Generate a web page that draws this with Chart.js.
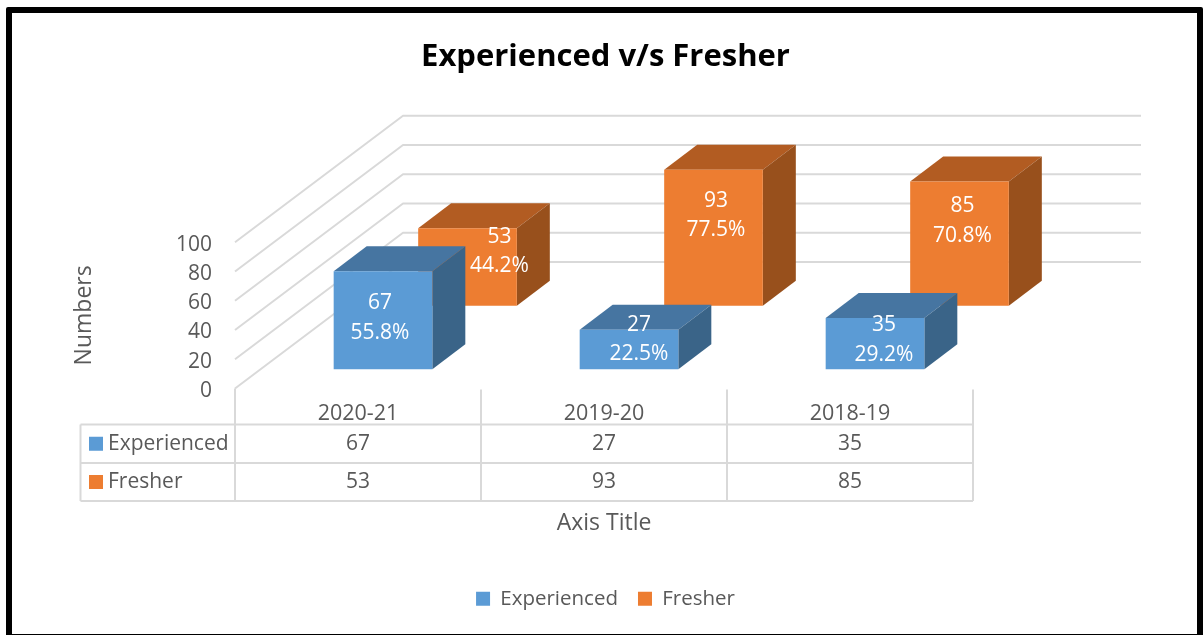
<!DOCTYPE html>
<html><head><meta charset="utf-8">
<style>
html,body{margin:0;padding:0;background:#fff;overflow:hidden;width:1203px;height:635px}
#wrap{position:relative;width:1203px;height:635px;overflow:hidden}
canvas{position:absolute;left:0;top:0}
#frame{position:absolute;left:6px;top:7px;width:1197px;height:632.5px;border:6px solid #000;box-sizing:border-box;border-radius:2px;pointer-events:none}
</style>
<script src="https://cdn.jsdelivr.net/npm/chart.js@4"></script>
</head><body>
<div id="wrap"><canvas id="c" width="1203" height="635"></canvas><div id="frame"></div></div>
<script>
const categories = ['2020-21','2019-20','2018-19'];
const experienced = [67,27,35];
const fresher = [53,93,85];
const experiencedPct = ['55.8%','22.5%','29.2%'];
const fresherPct = ['44.2%','77.5%','70.8%'];
const yTicks = [0,20,40,60,80,100];

const FONT = 'Open Sans';
const TXT = '#595959';
const GRID = '#d9d9d9';
const WALL = {dx:168, dy:-126.5, right:1141};
const BAR = {dx:33, dy:-25};
const look = [
  {shift:[25,-19.2], top:'#4675a1', side:'#3a6488', nudges:[[-3,32],[10,-5],[9,7]]},
  {shift:[109.5,-82.7], top:'#b25c22', side:'#98501c', nudges:[[32,8.5],[2.5,31],[3,25]]}
];
const LINE_GAP = 29.5;

const cube = {
  id:'cube',
  beforeDatasetsDraw(chart){
    const {ctx} = chart, y = chart.scales.y, x = chart.scales.x;
    ctx.save();
    ctx.strokeStyle = GRID; ctx.lineWidth = 2; ctx.lineJoin='round';
    yTicks.forEach(t=>{
      const p = y.getPixelForValue(t), L = x.left;
      ctx.beginPath(); ctx.moveTo(L,p); ctx.lineTo(L+WALL.dx,p+WALL.dy); ctx.lineTo(WALL.right,p+WALL.dy); ctx.stroke();
    });
    // data table
    const bottom = y.getPixelForValue(0);
    const rows = [424.5,463,501], tableLeft = 80.5;
    ctx.lineWidth = 2;
    rows.forEach(r=>{ctx.beginPath();ctx.moveTo(tableLeft,r);ctx.lineTo(x.right,r);ctx.stroke();});
    ctx.beginPath();ctx.moveTo(tableLeft,rows[0]);ctx.lineTo(tableLeft,rows[2]);ctx.stroke();
    const w = x.getPixelForTick(1)-x.getPixelForTick(0);
    categories.forEach((c,i)=>{
      const cx = x.getPixelForTick(i);
      if(i===0){ctx.beginPath();ctx.moveTo(cx-w/2,bottom);ctx.lineTo(cx-w/2,rows[2]);ctx.stroke();}
      ctx.beginPath();ctx.moveTo(cx+w/2,bottom+1);ctx.lineTo(cx+w/2,rows[2]);ctx.stroke();
    });
    ctx.font = '21px "'+FONT+'"'; ctx.fillStyle = TXT; ctx.textBaseline='middle';
    chart.data.datasets.forEach((ds,d)=>{
      const cy = (rows[d]+rows[d+1])/2;
      ctx.fillStyle = ds.backgroundColor; ctx.fillRect(89,cy-7,14,14);
      ctx.fillStyle = TXT; ctx.textAlign='left'; ctx.fillText(ds.label,108,cy);
      ctx.textAlign='center';
      ds.data.forEach((v,i)=>ctx.fillText(String(v),x.getPixelForTick(i),cy+0.5));
    });
    ctx.restore();
  },
  beforeDatasetDraw(chart,args){
    const {ctx} = chart, d = args.index, L = look[d];
    ctx.save();
    ctx.translate(L.shift[0],L.shift[1]);
    args.meta.data.forEach(b=>{
      const l=b.x-b.width/2, r=b.x+b.width/2, t=b.y, u=b.base;
      ctx.fillStyle=L.top; ctx.beginPath(); ctx.moveTo(l,t); ctx.lineTo(l+BAR.dx,t+BAR.dy); ctx.lineTo(r+BAR.dx,t+BAR.dy); ctx.lineTo(r,t); ctx.closePath(); ctx.fill();
      ctx.fillStyle=L.side; ctx.beginPath(); ctx.moveTo(r,t); ctx.lineTo(r+BAR.dx,t+BAR.dy); ctx.lineTo(r+BAR.dx,u+BAR.dy); ctx.lineTo(r,u); ctx.closePath(); ctx.fill();
    });
  },
  afterDatasetDraw(chart){ chart.ctx.restore(); },
  afterDatasetsDraw(chart){
    const {ctx} = chart;
    const pct = [experiencedPct,fresherPct];
    ctx.save();
    ctx.font='21px "'+FONT+'"'; ctx.fillStyle='#fff'; ctx.textAlign='center'; ctx.textBaseline='middle';
    [1,0].forEach(d=>{
      const L = look[d], meta = chart.getDatasetMeta(d);
      meta.data.forEach((b,i)=>{
        const x = b.x+L.shift[0]+L.nudges[i][0], y = b.y+L.shift[1]+L.nudges[i][1];
        ctx.fillText(String(chart.data.datasets[d].data[i]),x,y);
        ctx.fillText(pct[d][i],x,y+LINE_GAP);
      });
    });
    ctx.restore();
  }
};

new Chart(document.getElementById('c'),{
  type:'bar',
  plugins:[cube],
  data:{labels:categories,datasets:[
    {label:'Experienced',data:experienced,backgroundColor:'#5b9bd5',stack:'s',clip:false,yAxisID:'y'},
    {label:'Fresher',data:fresher,backgroundColor:'#ed7d31',stack:'s',clip:false,yAxisID:'y'}
  ]},
  options:{
    responsive:false,animation:false,
    events:[],
    layout:{padding:{left:8,right:0,top:0,bottom:16}},
    datasets:{bar:{categoryPercentage:1,barPercentage:0.401,borderWidth:0}},
    plugins:{
      tooltip:{enabled:false},
      title:{display:true,text:'Experienced v/s Fresher',color:'#000',
        font:{family:FONT,size:31,weight:'bold',lineHeight:1.2},
        padding:{top:39,bottom:166}},
      legend:{position:'bottom',
        labels:{color:TXT,font:{family:FONT,size:20.5},boxWidth:14,boxHeight:14,padding:20}}
    },
    scales:{
      x:{type:'category',
        grid:{display:false},border:{display:false},
        ticks:{color:TXT,font:{family:FONT,size:21.5},padding:4,maxRotation:0},
        title:{display:true,text:'Axis Title',color:TXT,font:{family:FONT,size:23},padding:{top:0,bottom:31}},
        afterFit(s){s.height=180;}
      },
      y:{type:'linear',min:0,max:100,stacked:false,
        grid:{display:false},border:{display:false},
        afterBuildTicks(s){s.ticks=yTicks.map(v=>({value:v}));},
        ticks:{color:TXT,font:{family:FONT,size:21},padding:15,labelOffset:2.5},
        title:{display:true,text:'Numbers',color:TXT,font:{family:FONT,size:23},padding:{top:63,bottom:0}},
        afterFit(s){s.width=227;}
      },
      r:{type:'linear',position:'right',display:true,
        grid:{display:false},border:{display:false},ticks:{display:false},
        afterFit(s){s.width=230;}
      }
    }
  }
});
</script>
</body></html>
